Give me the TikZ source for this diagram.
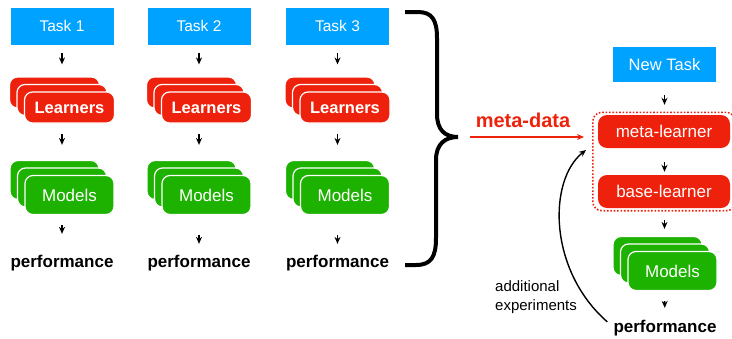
\documentclass[tikz,border=0pt]{standalone}
\usepackage{fontspec}
\setmainfont{Liberation Sans}
\usetikzlibrary{arrows.meta,shadows,fit}

\definecolor{taskblue}{RGB}{0,162,255}
\definecolor{learnred}{RGB}{238,34,12}
\definecolor{modelgreen}{RGB}{29,177,0}

\tikzset{
  arr/.style={-{Stealth[length=7pt,width=6pt]}, line width=1.4pt},
  taskbox/.style={fill=taskblue, text=white, minimum width=103pt, minimum height=37pt,
    font=\fontsize{15.5}{18}\selectfont},
  card/.style={rounded corners=8pt, draw=white, line width=1.2pt, text=white},
  learnstack/.style={card, fill=learnred, minimum width=90pt, minimum height=31pt,
    font=\bfseries\fontsize{16.5}{19}\selectfont,
    double copy shadow={shadow xshift=-7.5pt, shadow yshift=7.5pt, fill=learnred, draw=white, line width=1.2pt}},
  modelstack/.style={card, fill=modelgreen, minimum width=89pt, minimum height=39pt,
    font=\fontsize{17}{20}\selectfont,
    double copy shadow={shadow xshift=-7.5pt, shadow yshift=7.5pt, fill=modelgreen, draw=white, line width=1.2pt}},
  learnerbox/.style={rounded corners=9pt, fill=learnred, text=white, minimum width=132pt,
    minimum height=33pt, font=\fontsize{17}{20}\selectfont},
  perftext/.style={inner sep=0pt, font=\bfseries\fontsize{17}{20}\selectfont}
}

\begin{document}
\begin{tikzpicture}[x=1pt, y=-1pt]
  \useasboundingbox (0,0) rectangle (732,338);

  % three previous tasks
  \foreach \i/\x/\s/\e in {1/62/10pt/21pt, 2/199/20pt/11pt, 3/337.5/20pt/11pt} {
    \node[taskbox] (task\i) at (\x,26) {Task \i};
    \node[learnstack] (learn\i) at (\x+7.5,107.5) {Learners};
    \node[modelstack] (models\i) at (\x+7.5,195) {Models};
    \node[perftext] (perf\i) at (\x,263) {performance};
    \draw[arr, shorten <=8pt, shorten >=27pt] (task\i.south) -- (task\i.south |- learn\i.north);
    \draw[arr, shorten <=10pt, shorten >=30pt] (task\i.south |- learn\i.south) -- (task\i.south |- models\i.north);
    \draw[arr, shorten <=\s, shorten >=\e] (task\i.south |- models\i.south) -- (perf\i.north);
  }

  % brace over all tasks
  \draw[line width=4pt] (405,12) -- (418,12) .. controls (432,12) and (437,20) .. (437,38)
    -- (437,114) .. controls (437,130) and (445,137) .. (458,137)
    .. controls (445,137) and (436,144) .. (436,160) -- (436,238)
    .. controls (436,257) and (431,265) .. (416,265) -- (405,265);
  \coordinate (brace) at (458,137);

  % new task
  \node[taskbox, minimum height=35pt, font=\fontsize{16.5}{19}\selectfont] (newtask) at (664.5,64.5) {New Task};
  \node[learnerbox] (meta) at (664,131.5) {meta-learner};
  \node[learnerbox] (base) at (664,191.5) {base-learner};
  \node[draw=learnred, line width=1.6pt, dash pattern=on 1.6pt off 1.8pt, rounded corners=9pt,
    inner xsep=5pt, inner ysep=2.5pt, fit=(meta)(base)] (dotbox) {};
  \node[modelstack] (models4) at (672.5,271) {Models};
  \node[perftext] (perf4) at (665,328) {performance};

  \draw[arr, shorten <=13pt, shorten >=10pt] (newtask.south) -- (newtask.south |- meta.north);
  \draw[arr, shorten <=14pt, shorten >=3pt] (newtask.south |- meta.south) -- (newtask.south |- base.north);
  \draw[arr, shorten <=12pt, shorten >=22pt] (newtask.south |- base.south) -- (newtask.south |- models4.north);
  \draw[arr, shorten <=10pt, shorten >=12pt] (newtask.south |- models4.south) -- (perf4.north);

  % meta-data flow
  \draw[arr, learnred, shorten <=12pt, shorten >=8pt] (brace) -- (brace -| dotbox.west);
  \node[text=learnred, font=\bfseries\fontsize{20}{24}\selectfont] (metadata) at (523,120) {meta-data};

  % additional experiments loop
  \coordinate (expend) at (586,150);
  \draw[arr] ([xshift=-6pt,yshift=-2pt]perf4.north west) .. controls (548,270) and (548,180) .. (expend);
  \node[anchor=west, align=left, inner sep=0pt, font=\fontsize{15}{19}\selectfont] (addexp) at (495,297.5) {additional\\experiments};
\end{tikzpicture}
\end{document}
